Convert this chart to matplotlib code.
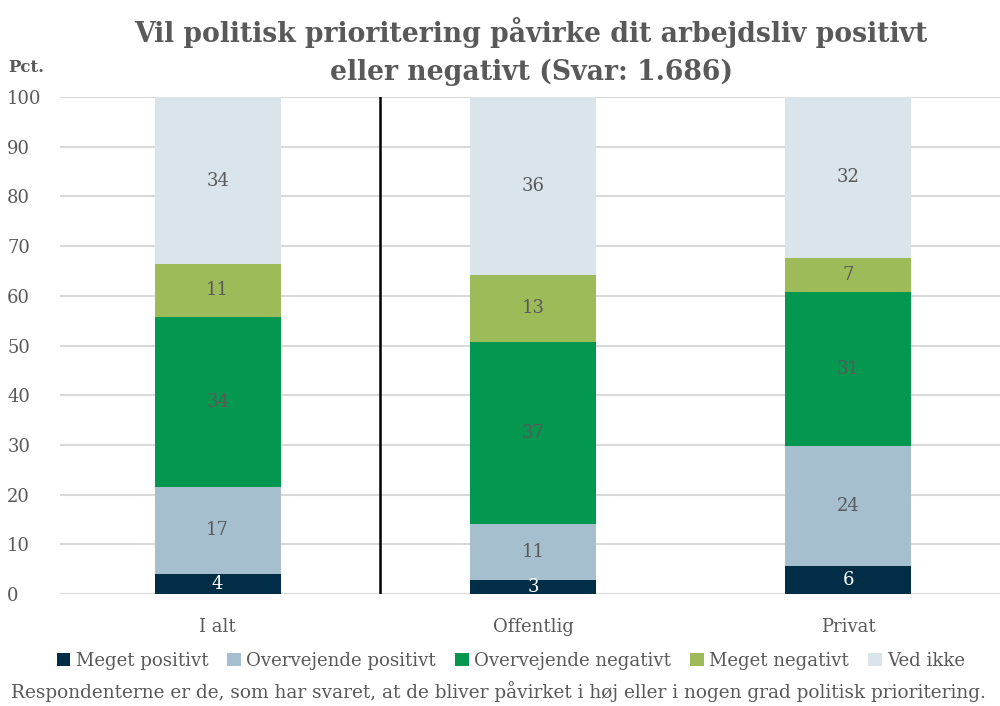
import matplotlib
matplotlib.use("Agg")
import matplotlib.pyplot as plt
import numpy as np

plt.rcParams['font.family'] = ['DejaVu Serif']

categories = ["I alt", "Offentlig", "Privat"]
series_names = ["Meget positivt", "Overvejende positivt", "Overvejende negativt",
                "Meget negativt", "Ved ikke"]
meget_positivt = [4.1, 2.8, 5.6]
overvejende_positivt = [17.4, 11.2, 24.1]
overvejende_negativt = [34.3, 36.8, 31.1]
meget_negativt = [10.6, 13.4, 6.9]
ved_ikke = [33.6, 35.8, 32.3]
series_values = [meget_positivt, overvejende_positivt, overvejende_negativt,
                 meget_negativt, ved_ikke]
colors = ["#022D47", "#A5BFCE", "#03974F", "#9DBB59", "#DAE4EB"]
label_colors = ["white", "#595959", "#595959", "#595959", "#595959"]
yticks = [0, 10, 20, 30, 40, 50, 60, 70, 80, 90, 100]

title = "Vil politisk prioritering påvirke dit arbejdsliv positivt\neller negativt (Svar: 1.686)"
footnote = "Respondenterne er de, som har svaret, at de bliver påvirket i høj eller i nogen grad politisk prioritering."

grey = "#595959"
fig = plt.figure(figsize=(10, 7.06), dpi=100)
ax = fig.add_axes([0.06, 0.1586, 0.946, 0.704])

x = np.arange(len(categories))
bottom = np.zeros(len(categories))
handles = []
for name, vals, c, lc in zip(series_names, series_values, colors, label_colors):
    vals = np.array(vals)
    bars = ax.bar(x, vals, width=0.4, bottom=bottom, color=c, label=name, zorder=3)
    handles.append(bars)
    for xi, v, b in zip(x, vals, bottom):
        ax.text(xi, b + v / 2, f"{v:.0f}", ha="center", va="center",
                color=lc, fontsize=13, zorder=4)
    bottom += vals

ax.set_xlim(-0.5, 2.5)
ax.set_ylim(0, 100)
ax.set_yticks(yticks)
ax.set_yticklabels([str(t) for t in yticks])
ax.set_xticks(x)
ax.set_xticklabels(categories)
ax.tick_params(axis="both", length=0, labelsize=13, colors=grey)
ax.tick_params(axis="x", pad=17)
ax.tick_params(axis="y", pad=38)
for lbl in ax.get_yticklabels():
    lbl.set_horizontalalignment("left")
ax.grid(axis="y", color="#D9D9D9", linewidth=1.5, zorder=0)
for s in ax.spines.values():
    s.set_visible(False)

# separator line
ax.plot([0.515, 0.515], [0, 100], color="black", linewidth=1.8, zorder=5)

fig.text(0.531, 0.927, title, ha="center", va="center", fontsize=19.2,
         fontweight="bold", color=grey, linespacing=1.5)
fig.text(0.008, 0.905, "Pct.", ha="left", va="center", fontsize=12,
         fontweight="bold", color=grey)

fig.legend(handles=handles, labels=series_names, loc="center", ncol=5,
           bbox_to_anchor=(0.511, 0.064), frameon=False, fontsize=13.1,
           handlelength=0.75, handleheight=0.75, handletextpad=0.3,
           columnspacing=1.05, labelcolor=grey)

fig.text(0.4985, 0.021, footnote, ha="center", va="center", fontsize=13.3, color=grey)

fig.savefig("out.png", dpi=100)
